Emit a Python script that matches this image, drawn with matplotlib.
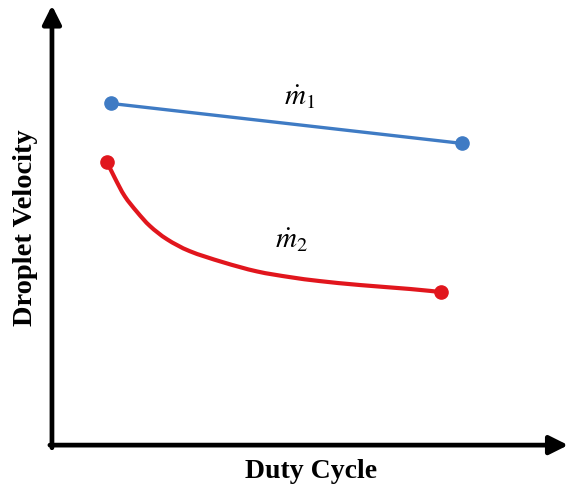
import matplotlib
matplotlib.use("Agg")
import matplotlib.pyplot as plt
from matplotlib.path import Path
from matplotlib.patches import PathPatch

# schematic values (arbitrary units)
m1_x = [1.14, 7.95]
m1_y = [7.77, 6.86]

m2_x = [1.07, 1.22, 1.41, 1.65, 1.90, 2.23, 2.67, 3.31, 3.97, 4.61, 5.19,
        5.97, 6.94, 7.54]
m2_y = [6.43, 6.07, 5.66, 5.30, 4.98, 4.68, 4.41, 4.16, 3.95, 3.82, 3.73,
        3.64, 3.55, 3.48]

xlabel = "Duty Cycle"
ylabel = "Droplet Velocity"

plt.rcParams["mathtext.fontset"] = "stix"


def smooth_path(xs, ys):
    # catmull-rom through the points, drawn as cubic bezier segments
    pts = list(zip(xs, ys))
    verts = [pts[0]]
    codes = [Path.MOVETO]
    for i in range(len(pts) - 1):
        p0 = pts[i - 1] if i > 0 else pts[i]
        p1 = pts[i]
        p2 = pts[i + 1]
        p3 = pts[i + 2] if i + 2 < len(pts) else pts[i + 1]
        c1 = (p1[0] + (p2[0] - p0[0]) / 6, p1[1] + (p2[1] - p0[1]) / 6)
        c2 = (p2[0] - (p3[0] - p1[0]) / 6, p2[1] - (p3[1] - p1[1]) / 6)
        verts += [c1, c2, p2]
        codes += [Path.CURVE4] * 3
    return Path(verts, codes)


fig = plt.figure(figsize=(5.71, 4.87), dpi=100)
ax = fig.add_axes([0.091, 0.086, 0.904, 0.903])
ax.set_xlim(0, 10)
ax.set_ylim(0, 10)
for s in ax.spines.values():
    s.set_visible(False)
ax.set_xticks([])
ax.set_yticks([])

# axes as arrows
arrow = dict(arrowstyle="-|>", lw=3.4, color="black", mutation_scale=28,
             shrinkA=0, shrinkB=0)
ax.annotate("", xy=(1.0, 0), xytext=(-0.004, 0), xycoords="axes fraction",
            arrowprops=arrow, annotation_clip=False)
ax.annotate("", xy=(0, 1.0), xytext=(0, -0.006), xycoords="axes fraction",
            arrowprops=arrow, annotation_clip=False)

blue = "#3f7bc4"
red = "#e1161d"

ax.plot(m1_x, m1_y, color=blue, lw=2.4, solid_capstyle="round")
ax.plot([m1_x[0], m1_x[-1]], [m1_y[0], m1_y[-1]], "o", color=blue, ms=9.5)

ax.add_patch(PathPatch(smooth_path(m2_x, m2_y), fill=False, edgecolor=red,
                       lw=3.0, capstyle="round"))
ax.plot([m2_x[0], m2_x[-1]], [m2_y[0], m2_y[-1]], "o", color=red, ms=9.5)

ax.text(4.8, 7.73, r"$\dot{m}_1$", fontsize=21, ha="center", va="baseline")
ax.text(4.65, 4.48, r"$\dot{m}_2$", fontsize=21, ha="center", va="baseline")

fig.text(0.545, 0.031, xlabel, fontsize=20, fontweight="bold",
         family="Liberation Serif", ha="center", va="center")
fig.text(0.044, 0.532, ylabel, fontsize=20.5, fontweight="bold",
         family="Liberation Serif", ha="center", va="center", rotation=90)

fig.savefig("out.png", dpi=100)
